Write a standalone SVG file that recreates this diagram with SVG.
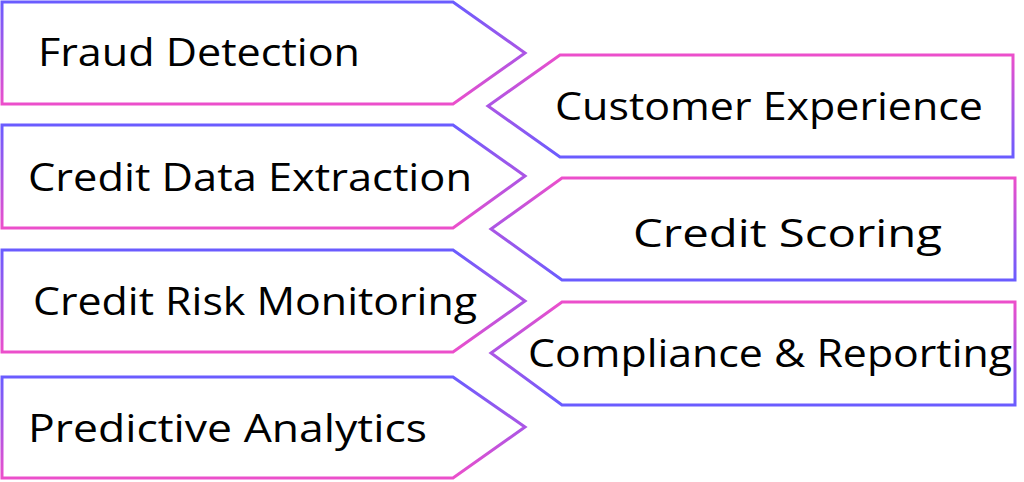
<svg xmlns="http://www.w3.org/2000/svg" width="1024" height="482" viewBox="0 0 1024 482">
<defs>
<linearGradient id="gl" x1="0" y1="0" x2="0" y2="1"><stop offset="0" stop-color="#6a5cff"/><stop offset="1" stop-color="#ec4fcb"/></linearGradient>
<linearGradient id="gr" x1="0" y1="0" x2="0" y2="1"><stop offset="0" stop-color="#ec4fcb"/><stop offset="1" stop-color="#6a5cff"/></linearGradient>
</defs>
<style>
.l{fill:#fff;stroke:url(#gl);stroke-width:3}
.r{fill:#fff;stroke:url(#gr);stroke-width:3}
text{font-family:"Open Sans","Noto Sans",sans-serif;font-size:38px;fill:#000}
</style>
<rect width="1024" height="482" fill="#fff"/>
<g id="n1"><path class="l" d="M2,2H453L525,53L453,104H2Z"/><text x="38" y="66" textLength="322" lengthAdjust="spacingAndGlyphs">Fraud Detection</text></g>
<g id="n2"><path class="l" d="M2,125H453L525,176L453,228H2Z"/><text x="28" y="191" textLength="444" lengthAdjust="spacingAndGlyphs">Credit Data Extraction</text></g>
<g id="n3"><path class="l" d="M2,250H453L525,301L453,352H2Z"/><text x="33" y="315" textLength="444" lengthAdjust="spacingAndGlyphs">Credit Risk Monitoring</text></g>
<g id="n4"><path class="l" d="M2,377H453L525,427L453,478H2Z"/><text x="28" y="442" textLength="399" lengthAdjust="spacingAndGlyphs">Predictive Analytics</text></g>
<g id="n5"><path class="r" d="M1013,55H560L488,106L560,157H1013Z"/><text x="555" y="120" textLength="428" lengthAdjust="spacingAndGlyphs">Customer Experience</text></g>
<g id="n6"><path class="r" d="M1015,178H562L491,229L562,280H1015Z"/><text x="633" y="247" textLength="309" lengthAdjust="spacingAndGlyphs">Credit Scoring</text></g>
<g id="n7"><path class="r" d="M1015,302H562L491,353L562,405H1015Z"/><text x="528" y="367" textLength="484" lengthAdjust="spacingAndGlyphs">Compliance &amp; Reporting</text></g>
<g id="connectors"/>
</svg>
